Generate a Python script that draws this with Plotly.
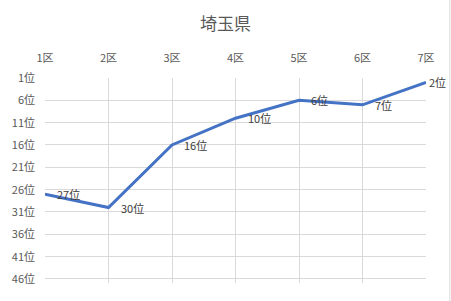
import plotly.graph_objects as go

categories = ["1区", "2区", "3区", "4区", "5区", "6区", "7区"]
ranks = [27, 30, 16, 10, 6, 7, 2]
rank_ticks = [1, 6, 11, 16, 21, 26, 31, 36, 41, 46]
title_text = "埼玉県"

FONT = "Noto Sans CJK JP, Noto Sans, sans-serif"
GRID = "#D9D9D9"
TXT = "#595959"

xs = list(range(len(categories)))

fig = go.Figure()
fig.add_trace(go.Scatter(
    x=xs, y=ranks, mode="lines",
    line=dict(color="#4472C4", width=3),
    hoverinfo="skip", showlegend=False,
))

for i, (x, r) in enumerate(zip(xs, ranks)):
    last = i == len(xs) - 1
    fig.add_annotation(
        x=x, y=r, text=f"{r}位", showarrow=False,
        xanchor="left", yanchor="middle",
        xshift=1 if last else 10,
        font=dict(family=FONT, size=11, color="#404040"),
    )

L, T, W, H = 42, 78, 384, 205
fig.add_shape(type="line", xref="paper", yref="paper",
              x0=(450 - L) / W, x1=(450 - L) / W, y0=-1, y1=2,
              line=dict(color=GRID, width=1))

fig.update_layout(
    width=451, height=301,
    margin=dict(l=L, r=451 - L - W, t=T, b=301 - T - H),
    paper_bgcolor="white", plot_bgcolor="white",
    title=dict(text=title_text, x=0.5, xanchor="center", y=1 - 24 / 301, yanchor="middle",
               font=dict(family=FONT, size=17, color=TXT)),
    xaxis=dict(
        side="top", range=[0, len(categories) - 1],
        tickvals=xs, ticktext=categories,
        showgrid=True, gridcolor=GRID, gridwidth=1,
        zeroline=False, showline=False, ticks="",
        ticklabelstandoff=13,
        tickfont=dict(family=FONT, size=11, color=TXT),
        fixedrange=True,
    ),
    yaxis=dict(
        range=[46.9, 1],
        tickvals=rank_ticks, ticktext=[f"{v}位" for v in rank_ticks],
        showgrid=True, gridcolor=GRID, gridwidth=1,
        zeroline=False, showline=False, ticks="",
        ticklabelstandoff=9,
        tickfont=dict(family=FONT, size=11, color=TXT),
        fixedrange=True,
    ),
)

fig.write_html("out.html")
